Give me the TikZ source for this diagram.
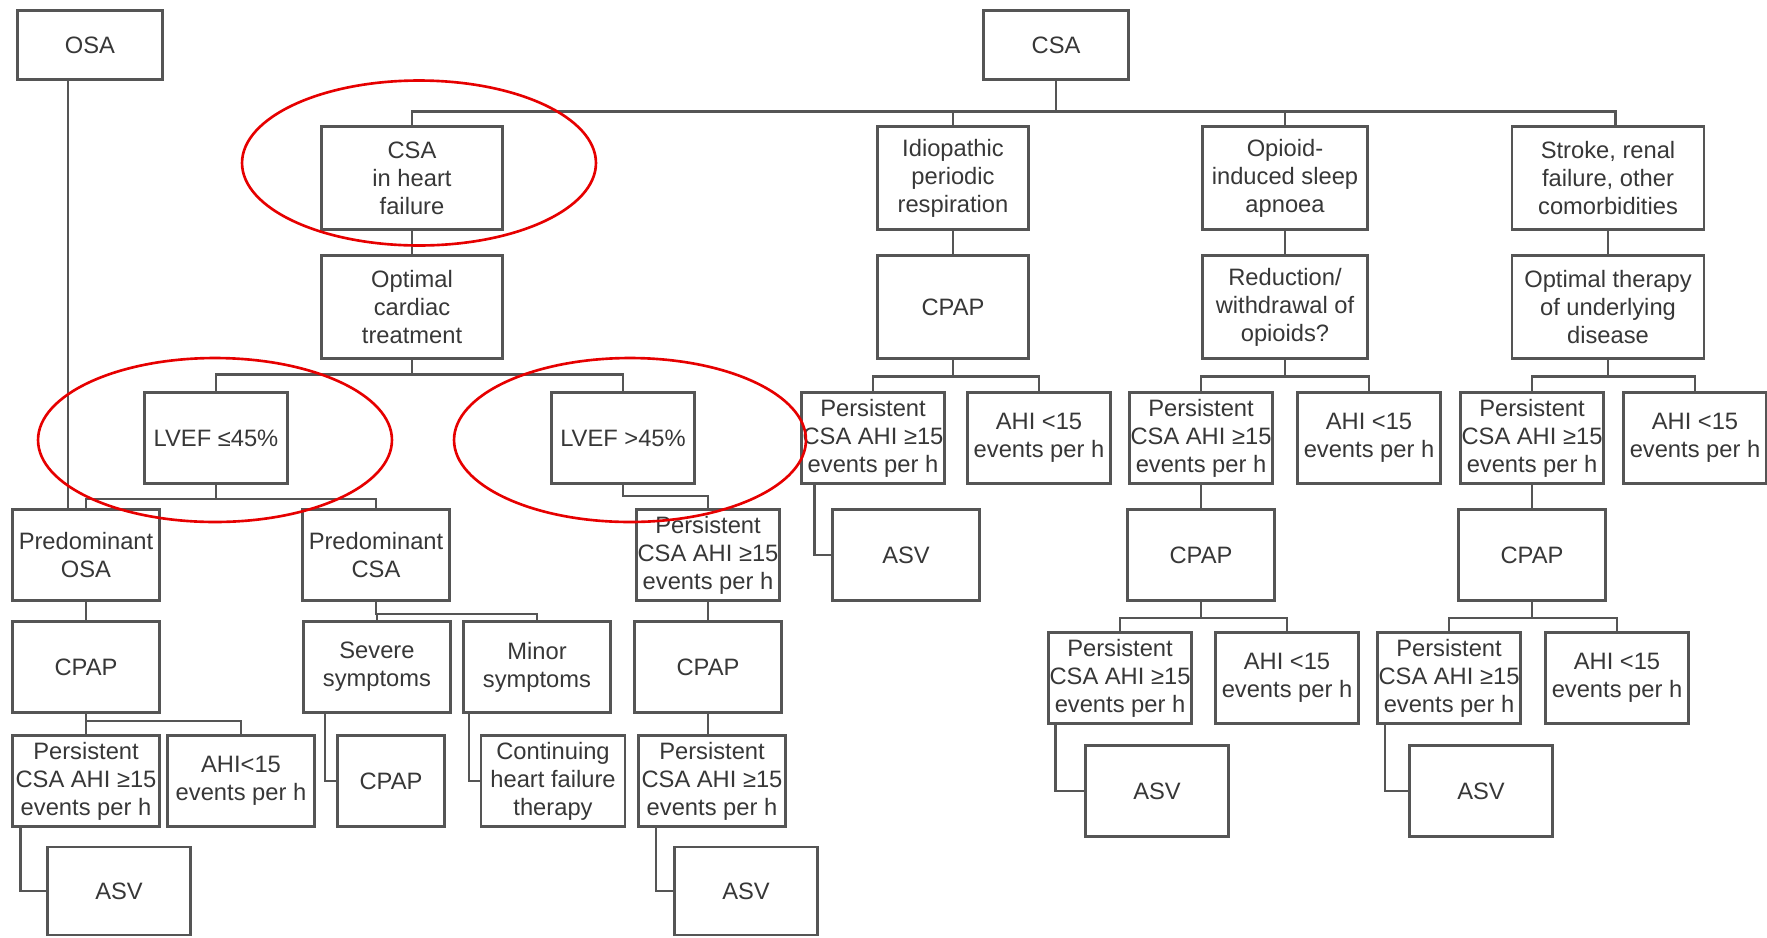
\documentclass[tikz,border=0pt]{standalone}
\usepackage{fontspec}
\setmainfont{Liberation Sans}
\definecolor{boxline}{RGB}{85,85,85}
\definecolor{boxtext}{RGB}{55,55,55}
\definecolor{ringred}{RGB}{230,0,0}

\begin{document}
\begin{tikzpicture}[x=0.02cm,y=-0.02cm]
\tikzstyle{box}=[draw=boxline,line width=1.3pt,text=boxtext,align=center,inner sep=0pt,font=\fontsize{13.5}{16}\selectfont]
\tikzstyle{head}=[box,minimum width=2.9cm,minimum height=1.38cm]
\tikzstyle{cause}=[box,minimum height=2.06cm]
\tikzstyle{leaf}=[box,minimum width=2.86cm,minimum height=1.82cm]
\tikzstyle{leafw}=[leaf,minimum width=2.94cm]
\tikzstyle{link}=[draw=boxline,line width=1.3pt]
\tikzstyle{ring}=[draw=ringred,line width=1.5pt]
\useasboundingbox (0,0) rectangle (1767,937);
\node [head] (osa) at (90,45) {OSA};
\node [head] (csa) at (1056,45) {CSA};
\node [cause,minimum width=3.62cm] (hf) at (412,178) {CSA\\in heart\\failure};
\node [cause,minimum width=3.02cm] (idio) at (953,178) {Idiopathic\\periodic\\respiration};
\node [cause,minimum width=3.3cm] (opi) at (1285,178) {Opioid-\\induced sleep\\apnoea};
\node [cause,minimum width=3.84cm] (strk) at (1608,178) {Stroke, renal\\failure, other\\comorbidities};
\node [cause,minimum width=3.62cm] (optc) at (412,307) {Optimal\\cardiac\\treatment};
\node [cause,minimum width=3.02cm] (cpapi) at (953,307) {CPAP};
\node [cause,minimum width=3.3cm] (redu) at (1285,307) {Reduction/\\withdrawal of\\opioids?};
\node [cause,minimum width=3.84cm] (optt) at (1608,307) {Optimal therapy\\of underlying\\disease};
\node [leaf] (lvlo) at (216,438) {LVEF ≤45\%};
\node [leaf] (lvhi) at (623,438) {LVEF >45\%};
\node [leaf] (persi) at (873,438) {Persistent\\CSA AHI ≥15\\events per h};
\node [leaf] (ahii) at (1039,438) {AHI <15\\events per h};
\node [leaf] (perso) at (1201,438) {Persistent\\CSA AHI ≥15\\events per h};
\node [leaf] (ahio) at (1369,438) {AHI <15\\events per h};
\node [leaf] (perss) at (1532,438) {Persistent\\CSA AHI ≥15\\events per h};
\node [leaf] (ahis) at (1695,438) {AHI <15\\events per h};
\node [leafw] (predosa) at (86,555) {Predominant\\OSA};
\node [leafw] (predcsa) at (376,555) {Predominant\\CSA};
\node [leaf] (perslv) at (708,555) {Persistent\\CSA AHI ≥15\\events per h};
\node [leafw] (asvi) at (906,555) {ASV};
\node [leafw] (cpapo) at (1201,555) {CPAP};
\node [leafw] (cpaps) at (1532,555) {CPAP};
\node [leafw] (cpaposa) at (86,667) {CPAP};
\node [leafw] (sev) at (377,667) {Severe\\symptoms};
\node [leafw] (minr) at (537,667) {Minor\\symptoms};
\node [leafw] (cpaplv) at (708,667) {CPAP};
\node [leaf] (perso2) at (1120,678) {Persistent\\CSA AHI ≥15\\events per h};
\node [leaf] (ahio2) at (1287,678) {AHI <15\\events per h};
\node [leaf] (perss2) at (1449,678) {Persistent\\CSA AHI ≥15\\events per h};
\node [leaf] (ahis2) at (1617,678) {AHI <15\\events per h};
\node [leafw] (persosa) at (86,781) {Persistent\\CSA AHI ≥15\\events per h};
\node [leafw] (ahiosa) at (241,781) {AHI<15\\events per h};
\node [leafw,minimum width=2.14cm] (cpapsev) at (391,781) {CPAP};
\node [leaf,minimum width=2.88cm] (cont) at (553,781) {Continuing\\heart failure\\therapy};
\node [leafw] (perslv2) at (712,781) {Persistent\\CSA AHI ≥15\\events per h};
\node [leaf,minimum height=1.76cm] (asvosa) at (119,891) {ASV};
\node [leaf,minimum height=1.76cm] (asvlv) at (746,891) {ASV};
\node [leaf] (asvo) at (1157,791) {ASV};
\node [leaf] (asvs) at (1481,791) {ASV};
\coordinate (osab) at ([xshift=1.03cm]osa.south west);
% CSA branches
\draw [link] (csa.south) -- ++(0,31) -| (hf.north);
\draw [link] (csa.south) -- ++(0,31) -| (idio.north);
\draw [link] (csa.south) -- ++(0,31) -| (opi.north);
\draw [link] (csa.south) -- ++(0,31) -| ([xshift=0.15cm]strk.north);
\draw [link] (hf) -- (optc);
\draw [link] (idio) -- (cpapi);
\draw [link] (opi) -- (redu);
\draw [link] (strk) -- (optt);
\draw [link] (optc.south) -- ++(0,15) -| (lvlo.north);
\draw [link] (optc.south) -- ++(0,15) -| (lvhi.north);
\draw [link] (cpapi.south) -- ++(0,17) -| (persi.north);
\draw [link] (cpapi.south) -- ++(0,17) -| (ahii.north);
\draw [link] (redu.south) -- ++(0,17) -| (perso.north);
\draw [link] (redu.south) -- ++(0,17) -| (ahio.north);
\draw [link] (optt.south) -- ++(0,17) -| (perss.north);
\draw [link] (optt.south) -- ++(0,17) -| (ahis.north);
\draw [link] ([xshift=0.28cm]persi.south west) |- (asvi.west);
\draw [link] (perso) -- (cpapo);
\draw [link] (perss) -- (cpaps);
\draw [link] (cpapo.south) -- ++(0,16) -| (perso2.north);
\draw [link] (cpapo.south) -- ++(0,16) -| (ahio2.north);
\draw [link] (cpaps.south) -- ++(0,16) -| (perss2.north);
\draw [link] (cpaps.south) -- ++(0,16) -| (ahis2.north);
\draw [link] ([xshift=0.16cm]perso2.south west) |- (asvo.west);
\draw [link] ([xshift=0.17cm]perss2.south west) |- (asvs.west);
% heart failure and OSA
\draw [link] (osab) -- (osab |- predosa.north);
\draw [link] (lvlo.south) -- ++(0,14) -| (predosa.north);
\draw [link] (lvlo.south) -- ++(0,14) -| (predcsa.north);
\draw [link] (lvhi.south) -- ++(0,11) -| (perslv.north);
\draw [link] (predosa) -- (cpaposa);
\draw [link] (cpaposa.south) -- ++(0,7) -| (persosa.north);
\draw [link] (cpaposa.south) -- ++(0,7) -| (ahiosa.north);
\draw [link] ([xshift=0.18cm]persosa.south west) |- (asvosa.west);
\draw [link] (predcsa.south) -- ++(0,12) -| (sev.north);
\draw [link] (predcsa.south) -- ++(0,12) -| (minr.north);
\draw [link] ([xshift=0.45cm]sev.south west) |- (cpapsev.west);
\draw [link] ([xshift=0.13cm]minr.south west) |- (cont.west);
\draw [link] (perslv) -- (cpaplv);
\draw [link] (cpaplv.south) -- (cpaplv.south |- perslv2.north);
\draw [link] ([xshift=0.37cm]perslv2.south west) |- (asvlv.west);
% red rings
\draw [ring] (419,163) ellipse [x radius=3.54cm, y radius=1.65cm];
\draw [ring] (215,440) ellipse [x radius=3.54cm, y radius=1.64cm];
\draw [ring] (630,440) ellipse [x radius=3.52cm, y radius=1.64cm];
\end{tikzpicture}
\end{document}
